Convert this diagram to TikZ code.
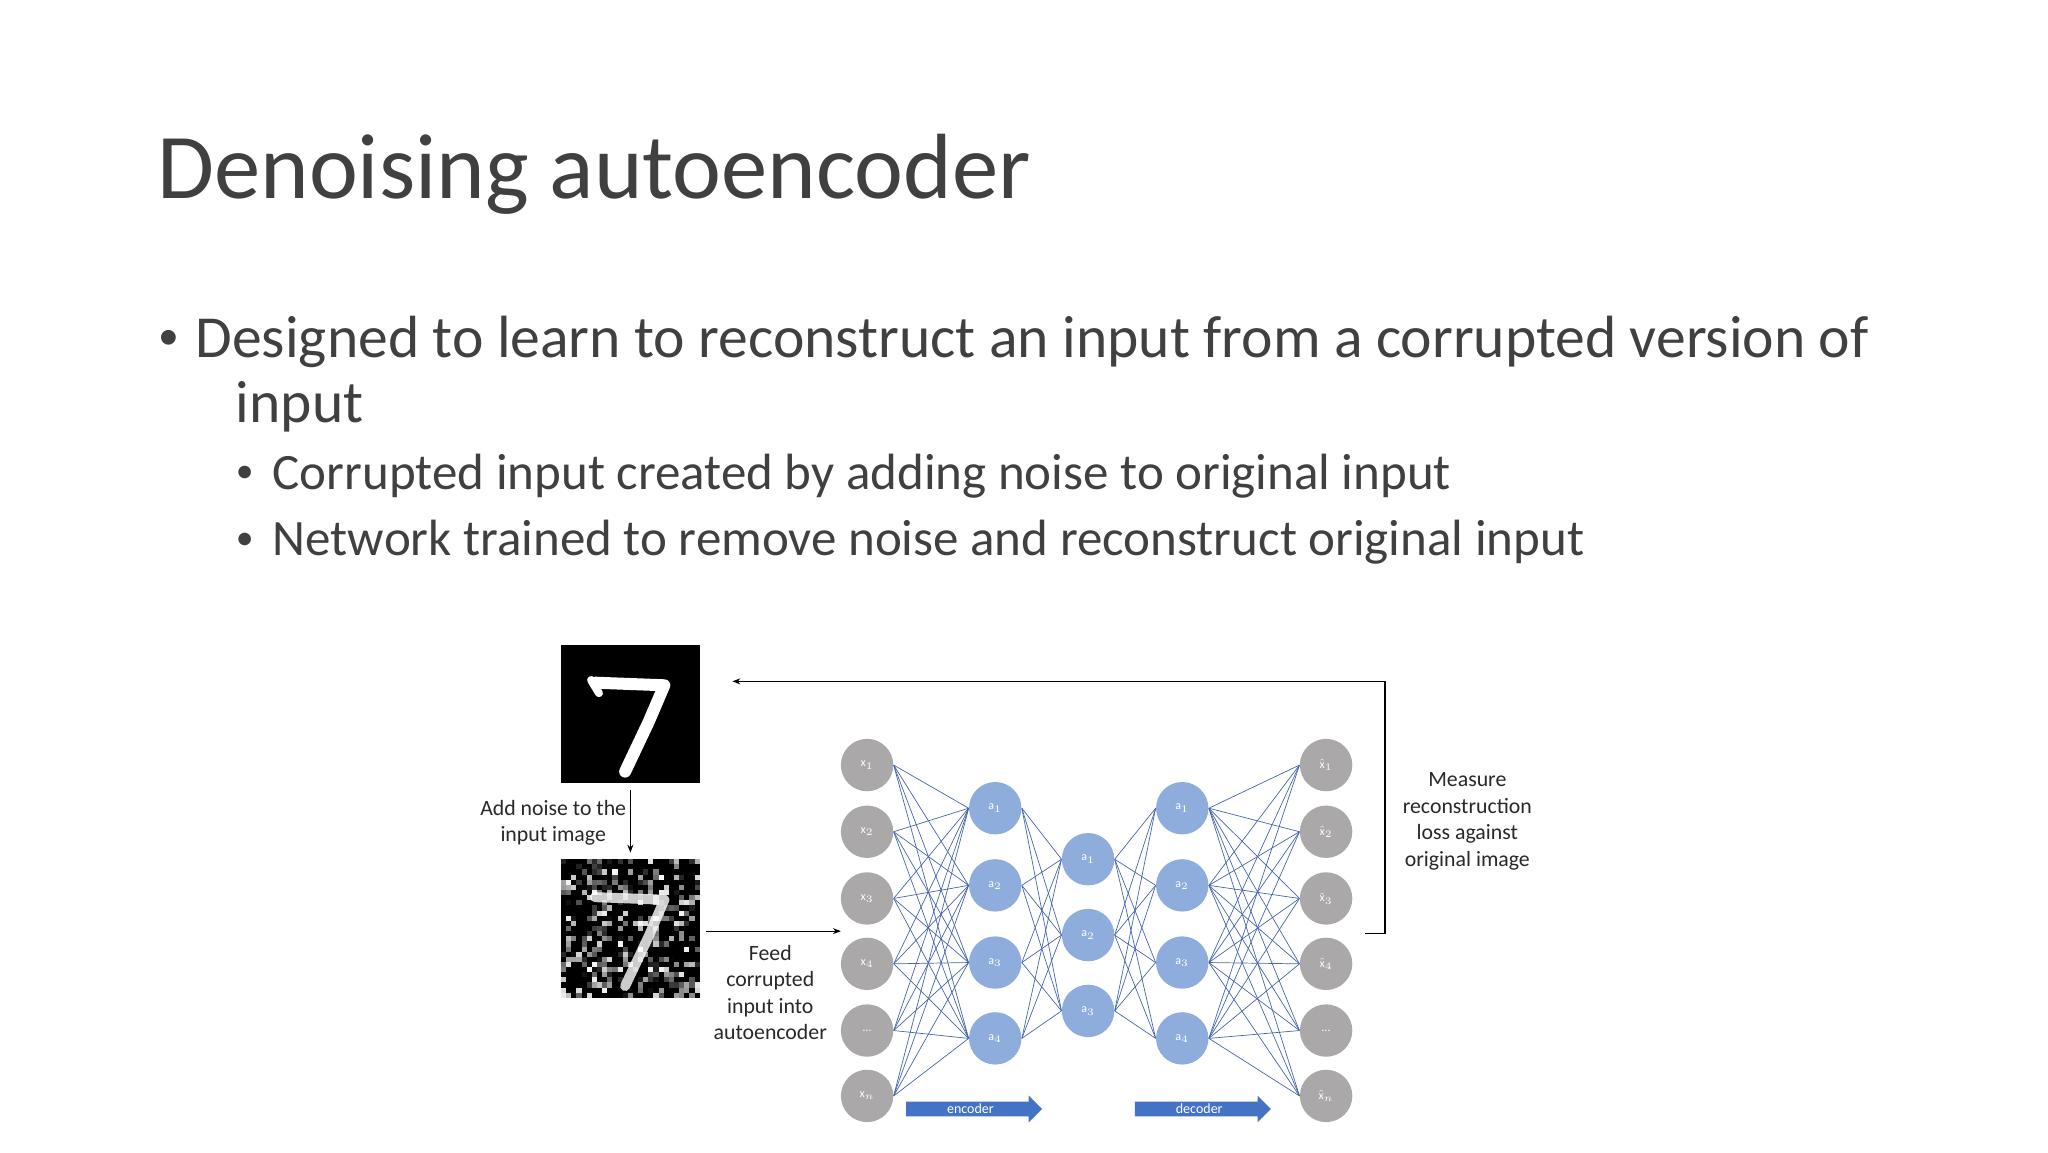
\documentclass[tikz,border=0pt]{standalone}
\usepackage{fontspec}
\setmainfont{Carlito}
\usetikzlibrary{arrows.meta,shapes.arrows}
\pgfdeclarelayer{bg}
\pgfsetlayers{bg,main}
\newcommand{\mybul}[1]{\makebox[#1][l]{\raisebox{0.12em}{\scalebox{0.7}{•}}}}
\begin{document}
\begin{tikzpicture}[x=0.6538pt,y=-0.6538pt,
  gnode/.style={circle,fill={rgb,255:red,170;green,168;blue,168},minimum size=26.2pt,inner sep=0pt,text=white,font=\fontsize{6}{7}\selectfont},
  bnode/.style={circle,fill={rgb,255:red,142;green,172;blue,220},minimum size=26.2pt,inner sep=0pt,text=white,font=\fontsize{6}{7}\selectfont},
  conn/.style={draw={rgb,255:red,70;green,100;blue,170},line width=0.35pt},
  lbl/.style={align=center,font=\fontsize{10.9}{13.2}\selectfont,text={rgb,255:red,40;green,40;blue,40}},
  bigarrow/.style={single arrow,fill={rgb,255:red,68;green,114;blue,196},minimum height=68pt,minimum width=13pt,single arrow head extend=3pt,inner sep=1pt,text=white,font=\fontsize{7}{8}\selectfont}]
\useasboundingbox (0,0) rectangle (1566,881);
\node[anchor=base west,inner sep=0pt,font=\fontsize{46.3}{50}\selectfont,text={rgb,255:red,64;green,64;blue,64}] (title) at (120,152) {Denoising autoencoder};
\node[anchor=base west,inner sep=0pt,font=\fontsize{29.8}{34}\selectfont,text={rgb,255:red,64;green,64;blue,64}] (b1) at (121,273) {\mybul{18.5pt}Designed to learn to reconstruct an input from a corrupted version of};
\node[anchor=base west,inner sep=0pt,font=\fontsize{29.8}{34}\selectfont,text={rgb,255:red,64;green,64;blue,64}] (b1b) at (180,323) {input};
\node[anchor=base west,inner sep=0pt,font=\fontsize{25.5}{28}\selectfont,text={rgb,255:red,64;green,64;blue,64}] (b2) at (180,374) {\mybul{18.5pt}Corrupted input created by adding noise to original input};
\node[anchor=base west,inner sep=0pt,font=\fontsize{25.5}{28}\selectfont,text={rgb,255:red,64;green,64;blue,64}] (b3) at (180,425) {\mybul{18.5pt}Network trained to remove noise and reconstruct original input};
% clean image
\fill[black] (429,493) rectangle (535,599);
\draw[white,line width=6pt,line join=round,line cap=round] (455,522) -- (508,524) -- (496,552) -- (478,590);
\draw[white,line width=4pt,line cap=round] (452,520) -- (458,530);
\node[inner sep=0pt,minimum width=69pt,minimum height=69pt] (img1) at (482,546) {};
% noisy image
\fill[black] (429,657) rectangle (535,763);
\pgfmathsetseed{7}
\foreach \i in {0,...,26}{\foreach \j in {0,...,26}{
  \pgfmathsetmacro\r{rnd}
  \ifdim\r pt>0.6pt
    \pgfmathsetmacro\g{int(100*rnd)}
    \fill[white!\g!black] (429+\i*3.926,657+\j*3.926) rectangle ++(3.926,3.926);
  \fi}}
\draw[white,opacity=0.8,line width=5pt,line join=round,line cap=round] (455,686) -- (508,688) -- (496,716) -- (478,754);
\node[inner sep=0pt,minimum width=69pt,minimum height=69pt] (img2) at (482,710) {};
\draw[-{Stealth[length=4pt]},line width=0.6pt] (482,604) -- (482,652);
\node[lbl] (t1) at (423,629) {Add noise to the\\input image};
\coordinate (feedS) at (540,712);
\coordinate (feedE) at (643,712);
\draw[-{Stealth[length=4pt]},line width=0.6pt] (feedS) -- (feedE);
\node[lbl] (t2) at (589,759) {Feed\\corrupted\\input into\\autoencoder};
% network
\foreach \k/\y/\t in {1/585/{x$_1$},2/636/{x$_2$},3/687/{x$_3$},4/737/{x$_4$},5/788/{\ldots},6/838/{x$_n$}}
  \node[gnode] (x\k) at (663,\y) {\t};
\foreach \k/\y in {1/618,2/677,3/736,4/794}
  \node[bnode] (e\k) at (761,\y) {a$_\k$};
\foreach \k/\y in {1/657,2/715,3/773}
  \node[bnode] (m\k) at (832,\y) {a$_\k$};
\foreach \k/\y in {1/618,2/677,3/736,4/794}
  \node[bnode] (d\k) at (904,\y) {a$_\k$};
\foreach \k/\y/\t in {1/585/{$\hat{\mathrm{x}}_1$},2/636/{$\hat{\mathrm{x}}_2$},3/687/{$\hat{\mathrm{x}}_3$},4/737/{$\hat{\mathrm{x}}_4$},5/788/{\ldots},6/838/{$\hat{\mathrm{x}}_n$}}
  \node[gnode] (o\k) at (1014,\y) {\t};
\begin{pgfonlayer}{bg}
\foreach \i in {1,...,6}{\foreach \j in {1,...,4}{\draw[conn] (x\i.east) -- (e\j.west); \draw[conn] (d\j.east) -- (o\i.west);}}
\foreach \i in {1,...,4}{\foreach \j in {1,...,3}{\draw[conn] (e\i.east) -- (m\j.west); \draw[conn] (m\j.east) -- (d\i.west);}}
\end{pgfonlayer}
\node[bigarrow] (enc) at (742,848) {encoder};
\node[bigarrow] (dec) at (917,848) {decoder};
% feedback
\coordinate (fb0) at (1044,714);
\coordinate (fb1) at (1059,714);
\coordinate (fb2) at (1059,521);
\coordinate (fb3) at (560,521);
\draw[-{Stealth[length=4pt]},line width=0.6pt] (fb0) -- (fb1) -- (fb2) -- (fb3);
\node[lbl] (t3) at (1122,628) {Measure\\reconstruction\\loss against\\original image};
\end{tikzpicture}
\end{document}
